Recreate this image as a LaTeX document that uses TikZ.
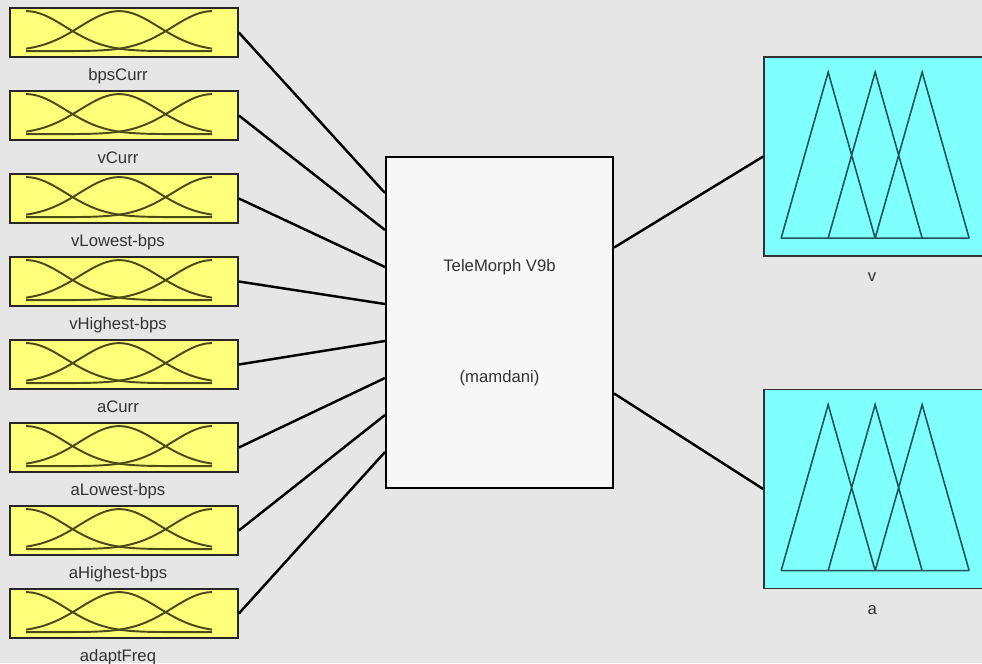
\documentclass[tikz,border=0pt]{standalone}
\usepackage{fontspec}
\setmainfont{Liberation Sans}
\usetikzlibrary{calc,positioning}
\definecolor{panel}{HTML}{E6E6E6}
\definecolor{infill}{HTML}{FFFF7A}
\definecolor{outfill}{HTML}{80FFFF}
\definecolor{mfline}{HTML}{4A4A18}
\definecolor{triline}{HTML}{1E5656}
\definecolor{labelgray}{HTML}{333333}

\begin{document}
\begin{tikzpicture}[
    x=0.02cm, y=-0.02cm,
    every node/.style={
        font=\fontsize{9.5}{11}\selectfont,
        text=labelgray,
    },
    inbox/.style={
        draw=black!85, line width=1pt, fill=infill, inner sep=0pt,
        minimum width=4.56cm, minimum height=0.98cm,
    },
    outbox/.style={
        draw=black!80, line width=1pt, fill=outfill, inner sep=0pt,
        minimum width=4.48cm, minimum height=3.98cm,
    },
    sysbox/.style={
        draw=black, line width=1.2pt, fill=white!97!black, align=center,
        minimum width=4.54cm, minimum height=6.62cm,
    },
    mf/.style={draw=mfline, line width=1.1pt},
    tri/.style={draw=triline, line width=0.9pt, line join=miter},
    link/.style={draw=black, line width=1.4pt},
    varname/.style={anchor=base, inner sep=0pt}
  ]
  \fill[panel] (0,0) rectangle (982,663);
  \useasboundingbox (0,0) rectangle (982,663);

  \node[sysbox] (tm) at (499.5,322.5) {TeleMorph V9b\\[52pt](mamdani)};

  \foreach \name [count=\i] in {bpsCurr,vCurr,vLowest-bps,vHighest-bps,aCurr,aLowest-bps,aHighest-bps,adaptFreq} {
    \node[inbox] (in\i) at (124,{32.5+83*(\i-1)}) {};
    \foreach \c in {0,0.5,1}
      \draw[mf, shift={(in\i.north west)}] plot[domain=0:1, samples=60, smooth]
        ({17+186*\x}, {44-40*exp(-(\x-\c)*(\x-\c)/0.0901)});
    \node[varname] (lbl\i) at ($(in\i.south)+(-6,23)$) {\name};
    \draw[link] (in\i.east) -- ($(tm.north west)!\i/9!(tm.south west)$);
  }

  \node[outbox] (outv) at (876,156.5) {};
  \node[outbox] (outa) at (876,489) {};
  \draw[link] ($(tm.north east)!0.275!(tm.south east)$) -- (outv.west);
  \draw[link] ($(tm.north east)!0.713!(tm.south east)$) -- (outa.west);

  \foreach \o/\nm in {outv/v,outa/a} {
    \draw[tri, shift={(\o.north west)}] (18,182) -- (206,182)
      (18,182) -- (65,16) -- (112,182)
      (65,182) -- (112,16) -- (159,182)
      (112,182) -- (159,16) -- (206,182);
    \node[varname] (\o-lbl) at ($(\o.south west)+(109,25)$) {\nm};
  }
\end{tikzpicture}
\end{document}
